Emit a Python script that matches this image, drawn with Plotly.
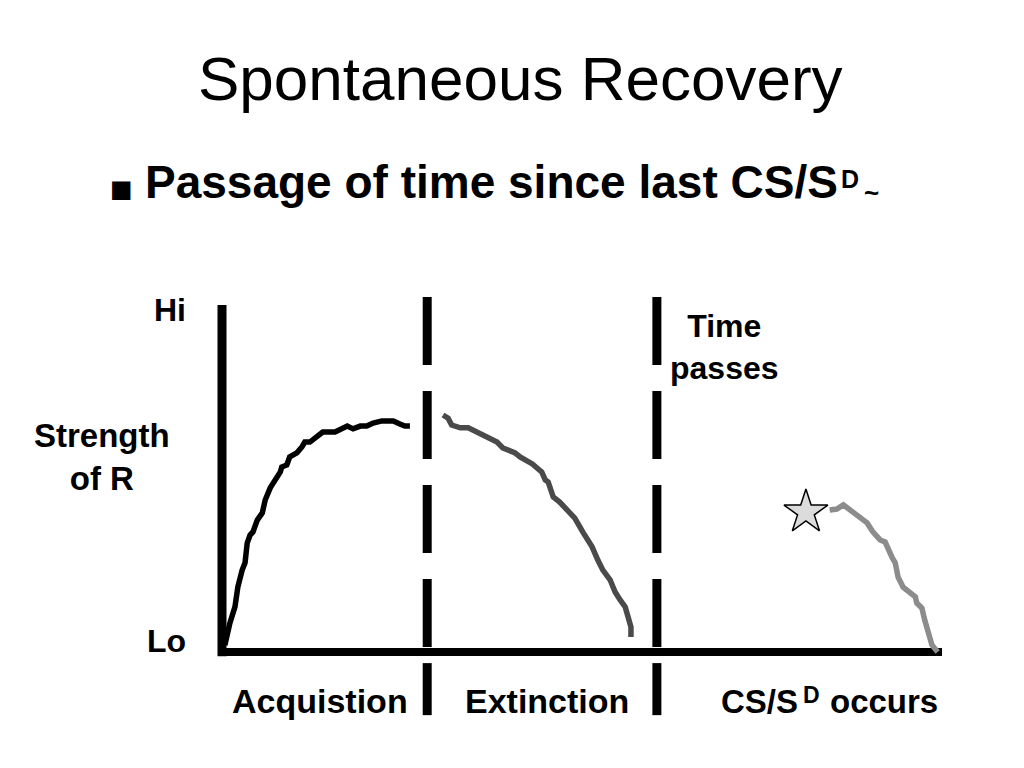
import plotly.graph_objects as go

W, H = 1024, 768

# ---- data (time units 0..100, strength 0=Lo .. 100=Hi) ----
acq_t = [0.4, 0.7, 1.1, 1.8, 2.2, 2.8, 3.2, 3.5, 3.9, 4.3, 4.9, 5.6, 6.0, 6.7, 7.4, 8.1,
         8.3, 9.0, 9.4, 10.4, 11.1, 11.5, 12.2, 13.2, 14.0, 15.7, 16.4, 17.4, 18.2, 19.2,
         20.1, 21.0, 22.2, 23.8, 24.7, 25.4, 26.1]
acq_r = [2.0, 5.5, 8.4, 13.0, 18.7, 23.6, 25.7, 31.4, 33.7, 34.6, 38.0, 40.1, 43.8, 47.3,
         49.6, 51.9, 53.3, 53.9, 56.2, 57.4, 59.1, 60.5, 60.5, 62.0, 63.4, 63.4, 64.0, 65.1,
         64.3, 65.1, 65.1, 66.0, 66.6, 66.6, 65.7, 65.1, 65.1]

ext_t = [30.7, 31.4, 31.9, 33.1, 34.2, 35.6, 37.2, 38.2, 39.0, 40.7, 41.4, 43.1, 44.4, 44.9,
         45.3, 46.0, 46.9, 47.9, 49.0, 50.1, 51.4, 52.2, 52.9, 53.9, 54.6, 55.3, 56.0, 56.4,
         56.8, 56.8]
ext_r = [68.3, 67.4, 65.4, 64.6, 64.6, 63.1, 61.4, 60.5, 58.8, 57.4, 56.2, 54.2, 51.9, 49.6,
         49.0, 44.7, 43.2, 40.9, 38.6, 34.6, 30.3, 26.5, 23.6, 20.8, 17.3, 15.0, 13.0, 10.1,
         7.2, 4.3]

rec_t = [84.4, 85.4, 86.3, 87.2, 88.3, 89.6, 90.4, 91.4, 92.1, 92.5, 93.1, 93.5, 93.9, 94.6,
         95.6, 96.3, 96.5, 97.2, 97.6, 98.1, 98.6, 99.4]
rec_r = [40.9, 41.2, 42.4, 40.9, 38.9, 37.2, 34.6, 32.3, 31.7, 29.4, 27.1, 25.7, 21.6, 18.7,
         17.3, 15.9, 14.1, 12.7, 9.2, 4.9, 2.0, 0.0]

star_t = [81.1]
star_r = [40.3]

divider_t = [28.5, 60.4]          # phase boundaries
divider_span = [102.3, 0.0]       # dashed part
divider_stub = [-3.2, -18.2]      # part below the axis
axis_t = [0.4, 100.0]
axis_r = [100.0, -1.2]

title = "Spontaneous Recovery"
bullet = "Passage of time since last CS/S"
phase_labels = ["Acquistion", "Extinction", "CS/S", "D", "occurs"]

# ---- pixel geometry of the plotting frame ----
X0, X1 = 222, 942     # pixel of t=0, t=100
Y0, Y1 = 652, 305     # pixel of r=0, r=100
sx = (X1 - X0) / 100.0
sy = (Y0 - Y1) / 100.0
xrange = [(0 - X0) / sx, (W - X0) / sx]
yrange = [(Y0 - H) / sy, Y0 / sy]

def px(x):
    return x / W

def py(y):
    return 1 - y / H

fig = go.Figure()

# axes
fig.add_trace(go.Scatter(x=[0, 0], y=axis_r, mode="lines",
                         line=dict(color="black", width=9), hoverinfo="skip"))
fig.add_trace(go.Scatter(x=axis_t, y=[0, 0], mode="lines",
                         line=dict(color="black", width=8), hoverinfo="skip"))

# dividers
for t in divider_t:
    fig.add_trace(go.Scatter(x=[t, t], y=divider_span, mode="lines",
                             line=dict(color="black", width=9, dash="68px,26px"),
                             hoverinfo="skip"))
    fig.add_trace(go.Scatter(x=[t, t], y=divider_stub, mode="lines",
                             line=dict(color="black", width=9), hoverinfo="skip"))

# curves
fig.add_trace(go.Scatter(x=acq_t, y=acq_r, mode="lines",
                         line=dict(color="#000000", width=5.5), hoverinfo="skip"))
fig.add_trace(go.Scatter(x=ext_t, y=ext_r, mode="lines",
                         line=dict(color="#4a4a4a", width=5.5), hoverinfo="skip"))
fig.add_trace(go.Scatter(x=rec_t, y=rec_r, mode="lines",
                         line=dict(color="#8c8c8c", width=5.5), hoverinfo="skip"))
fig.add_trace(go.Scatter(x=star_t, y=star_r, mode="markers",
                         marker=dict(symbol="star", size=33, color="#dcdcdc",
                                     line=dict(color="black", width=1.5)),
                         hoverinfo="skip"))

FONT = "Liberation Sans, Arial, Helvetica, sans-serif"
ann = []

def label(text, x, y, size, bold=True, xanchor="center", yanchor="middle", family=FONT):
    t = f"<b>{text}</b>" if bold else text
    ann.append(dict(text=t, x=px(x), y=py(y), xref="paper", yref="paper",
                    xanchor=xanchor, yanchor=yanchor, showarrow=False,
                    font=dict(family=family, size=size, color="black"), align="center"))

label(title, 520, 78, 62, bold=False)
label("■", 121, 189, 24, bold=False, family="DejaVu Sans")
label(bullet, 143, 182, 46, xanchor="left")
label("D", 839, 179, 25, xanchor="left")
label("~", 862, 193, 26, xanchor="left")
label("Hi", 170, 310, 32)
label("Strength<br>of R", 102, 457, 33)
label("Lo", 166, 641, 32)
label("Time<br>passes", 724, 347, 32)
label(phase_labels[0], 320, 701, 34)
label(phase_labels[1], 547, 701, 34)
label(phase_labels[2], 800, 701, 33, xanchor="right")
label(phase_labels[3], 801, 695, 23, xanchor="left")
label(phase_labels[4], 940, 701, 33, xanchor="right")

fig.update_layout(
    width=W, height=H,
    margin=dict(l=0, r=0, t=0, b=0),
    paper_bgcolor="white", plot_bgcolor="white",
    showlegend=False,
    xaxis=dict(range=xrange, visible=False, fixedrange=True),
    yaxis=dict(range=yrange, visible=False, fixedrange=True),
    annotations=ann,
)

fig.write_html("out.html", config={"displayModeBar": False, "staticPlot": True},
               post_script="document.body.style.margin='0';")
